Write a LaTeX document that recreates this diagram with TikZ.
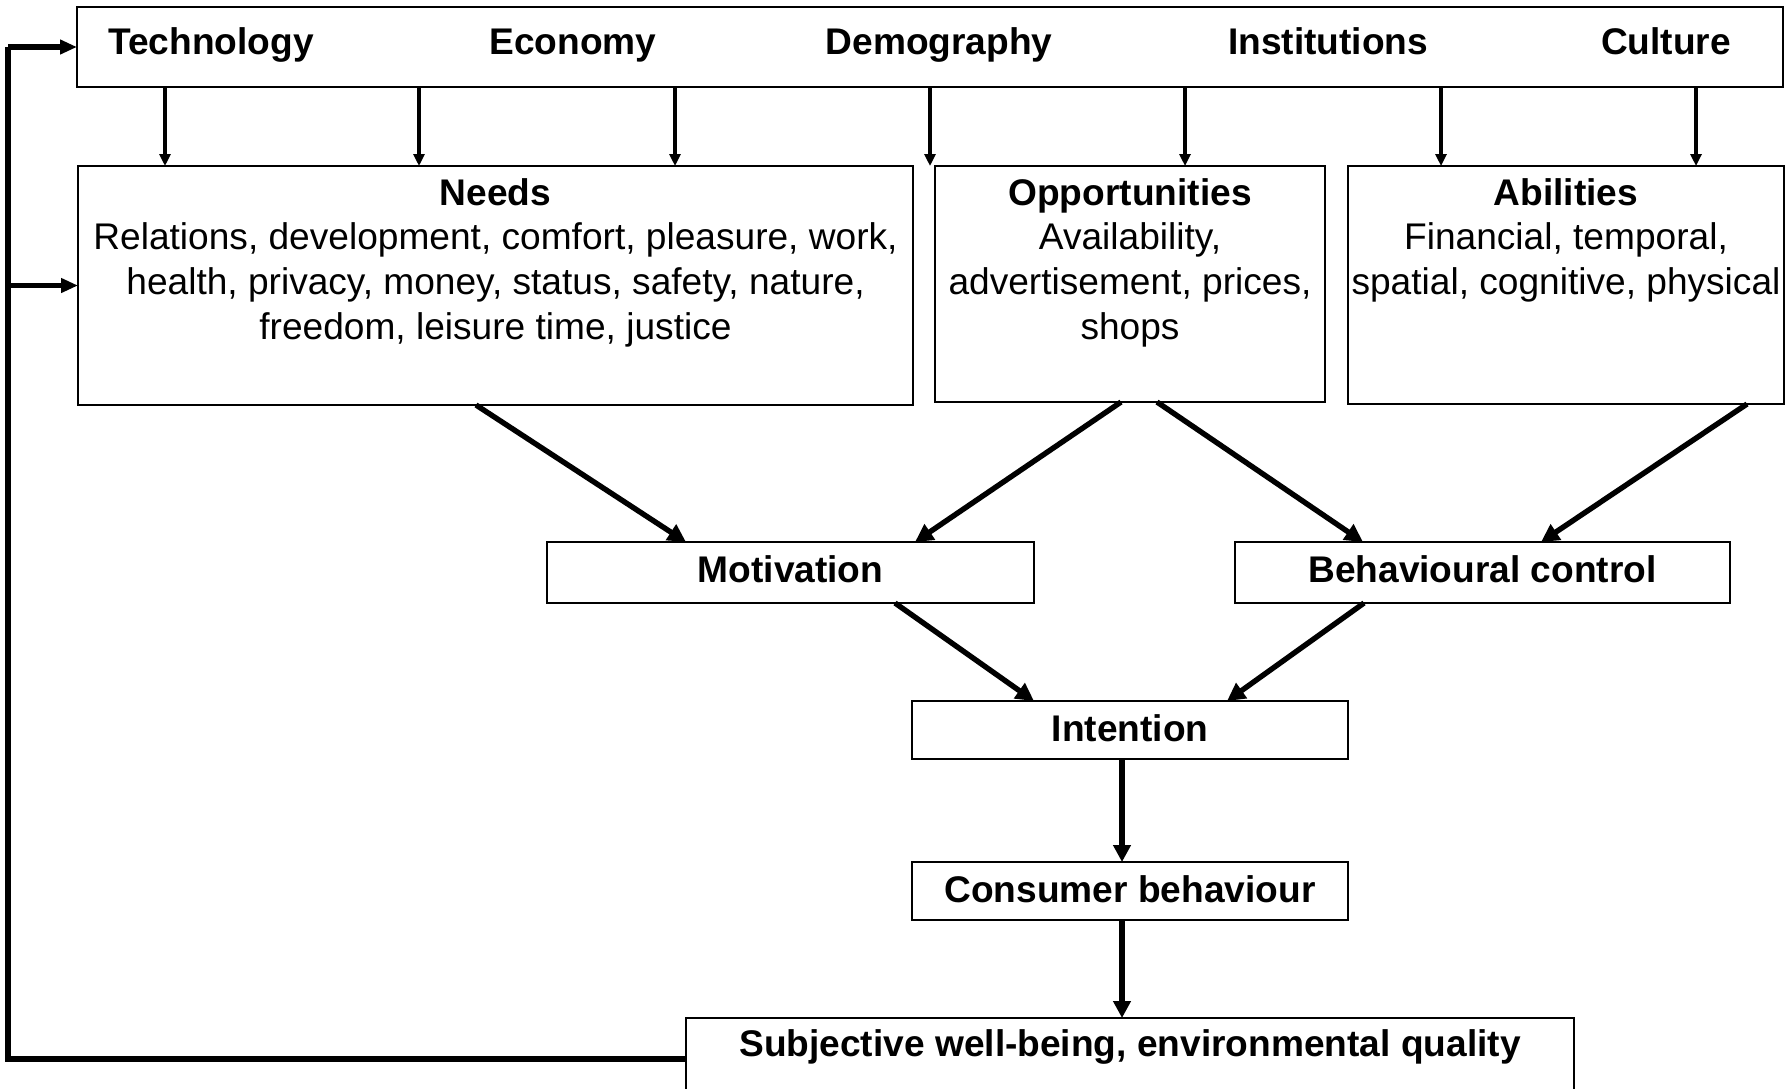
\documentclass[tikz,border=0pt]{standalone}
\usepackage{fontspec}
\setmainfont{Liberation Sans}
\usetikzlibrary{arrows.meta,calc}

\begin{document}
\begin{tikzpicture}[x=0.5pt,y=-0.5pt,
  every node/.style={font=\fontsize{18.55pt}{22.4pt}\selectfont, inner sep=0pt, outer sep=0pt},
  box/.style={draw, line width=1.1pt, rectangle, anchor=north west},
  lbl/.style={anchor=base},
  blk/.style={anchor=base},
  topArrow/.style={line width=2pt, -{Triangle[length=6pt,width=5.5pt]}},
  diagArrow/.style={line width=2.7pt, -{Triangle[length=9pt,width=9pt]}},
  downArrow/.style={line width=2.8pt, -{Triangle[length=8.5pt,width=8.5pt]}},
  loopLine/.style={line width=2.6pt, line join=miter},
  loopArrow/.style={line width=2.6pt, -{Triangle[length=8.5pt,width=7pt]}}
]
\useasboundingbox (0,0) rectangle (1787,1088);
\clip (0,0) rectangle (1787,1088);

% frame of driving forces
\node[box, minimum width=853pt, minimum height=40pt] (top) at (77,7) {};
\node[lbl] (tTech) at (211,54) {\bfseries Technology};
\node[lbl] (tEcon) at (573,54) {\bfseries Economy};
\node[lbl] (tDemo) at (939,54) {\bfseries Demography};
\node[lbl] (tInst) at (1328,54) {\bfseries Institutions};
\node[lbl] (tCult) at (1666,54) {\bfseries Culture};

% needs, opportunities, abilities
\node[box, minimum width=417.5pt, minimum height=119.5pt] (needs) at (78,166) {};
\node[box, minimum width=195pt, minimum height=118pt] (opp) at (935,166) {};
\node[box, minimum width=218pt, minimum height=119pt] (abil) at (1348,166) {};

\node[blk] (needsT) at ($(needs.north)+(0,39)$) {\begin{tabular}[t]{@{}c@{}}\bfseries Needs\\
  Relations, development, comfort, pleasure, work,\\
  health, privacy, money, status, safety, nature,\\
  freedom, leisure time, justice\end{tabular}};
\node[blk] (oppT) at ($(opp.north)+(0,39)$) {\begin{tabular}[t]{@{}c@{}}\bfseries Opportunities\\
  Availability,\\ advertisement, prices,\\ shops\end{tabular}};
\node[blk] (abilT) at ($(abil.north)+(0,39)$) {\begin{tabular}[t]{@{}c@{}}\bfseries Abilities\\
  Financial, temporal,\\ spatial, cognitive, physical\end{tabular}};

% middle chain
\node[box, minimum width=243.5pt, minimum height=30.5pt] (motiv) at (547,542) {};
\node[lbl] at ($(motiv.north)+(0,40)$) {\bfseries Motivation};
\node[box, minimum width=247.5pt, minimum height=30.5pt] (beh) at (1235,542) {};
\node[lbl] at ($(beh.north)+(0,40)$) {\bfseries Behavioural control};
\node[box, minimum width=218pt, minimum height=29pt] (intent) at (912,701) {};
\node[lbl] at ($(intent.north)+(0,40)$) {\bfseries Intention};
\node[box, minimum width=218pt, minimum height=29pt] (cons) at (912,862) {};
\node[lbl] at ($(cons.north)+(0,40)$) {\bfseries Consumer behaviour};
\node[box, minimum width=444pt, minimum height=41pt] (subj) at (686,1018) {};
\node[lbl] at ($(subj.north)+(0,38)$) {\bfseries Subjective well-being, environmental quality};

% influences of the driving forces
\foreach \x/\t in {165/needs, 419/needs, 675/needs, 930/needs, 1185/opp, 1441/abil, 1696/abil}
  \draw[topArrow] (top.south -| \x,0) -- (\t.north -| \x,0);

% arrows towards motivation and behavioural control
\draw[diagArrow] (needs.south -| 476,0) -- (motiv.north -| 686,0);
\draw[diagArrow] (opp.south -| 1121,0) -- (motiv.north -| 915,0);
\draw[diagArrow] (opp.south -| 1157,0) -- (beh.north -| 1363,0);
\draw[diagArrow] (abil.south -| 1747,0) -- (beh.north -| 1541,0);
\draw[diagArrow] (motiv.south -| 895,0) -- (intent.north -| 1034,0);
\draw[diagArrow] (beh.south -| 1364,0) -- (intent.north -| 1227,0);

% intention to behaviour to outcome
\draw[downArrow] (intent.south -| 1122,0) -- (cons.north -| 1122,0);
\draw[downArrow] (cons.south -| 1122,0) -- (subj.north -| 1122,0);

% feedback loop
\coordinate (loopx) at (8,0);
\draw[loopLine] (subj.west) -| (loopx |- top.west);
\draw[loopArrow] (loopx |- top.west) -- (top.west);
\draw[loopArrow] (loopx |- needs.west) -- (needs.west);
\end{tikzpicture}
\end{document}
